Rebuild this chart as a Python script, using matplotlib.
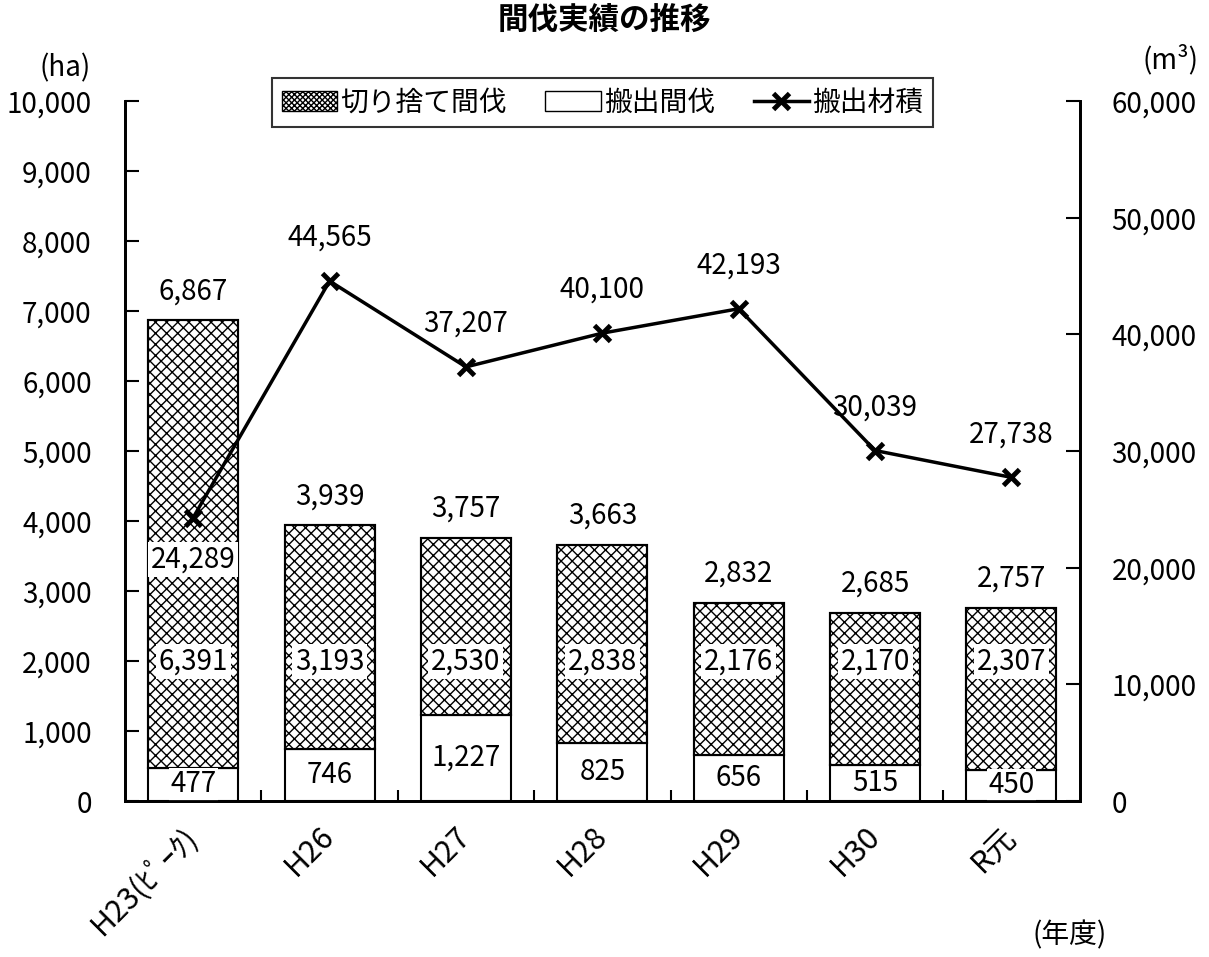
import matplotlib
matplotlib.use("Agg")
import matplotlib.pyplot as plt
from matplotlib.patches import Patch
from matplotlib.lines import Line2D
from matplotlib.ticker import FuncFormatter, MultipleLocator

plt.rcParams['font.family'] = ['Noto Sans CJK JP', 'DejaVu Sans']
plt.rcParams['hatch.linewidth'] = 1.0

categories = ['H23(ﾋﾟｰｸ)', 'H26', 'H27', 'H28', 'H29', 'H30', 'R元']
hanshutsu = [477, 746, 1227, 825, 656, 515, 450]          # 搬出間伐 (ha)
kirisute = [6391, 3193, 2530, 2838, 2176, 2170, 2307]      # 切り捨て間伐 (ha)
totals = [6867, 3939, 3757, 3663, 2832, 2685, 2757]        # 合計 (ha)
volume = [24289, 44565, 37207, 40100, 42193, 30039, 27738] # 搬出材積 (m3)

fig = plt.figure(figsize=(12.09, 9.57), dpi=100)
ax = fig.add_axes([0.1034, 0.163, 0.7896, 0.7315])
ax2 = ax.twinx()

x = list(range(len(categories)))
w = 0.66
fs = 20

ax.bar(x, hanshutsu, w, color='white', edgecolor='black', linewidth=1.5, zorder=2)
ax.bar(x, kirisute, w, bottom=hanshutsu, color='white', edgecolor='black',
       hatch='xxx', linewidth=1.5, zorder=2)
ax.bar(x, kirisute, w, bottom=hanshutsu, color='none', edgecolor='black',
       linewidth=1.5, zorder=3)

ax.set_xlim(-0.5, len(categories) - 0.5)
ax.set_ylim(0, 10000)
ax2.set_ylim(0, 60000)
ax.yaxis.set_major_locator(MultipleLocator(1000))
ax2.yaxis.set_major_locator(MultipleLocator(10000))
fmt = FuncFormatter(lambda v, p: f'{int(v):,}')
ax.yaxis.set_major_formatter(fmt)
ax2.yaxis.set_major_formatter(fmt)

for a in (ax, ax2):
    a.spines['top'].set_visible(False)
    for s in ('left', 'right', 'bottom'):
        a.spines[s].set_linewidth(2)
ax.tick_params(axis='y', direction='in', length=10, width=1.5, labelsize=fs, pad=24)
ax2.tick_params(axis='y', direction='in', length=10, width=1.5, labelsize=fs, pad=23)

ax.set_xticks(x)
ax.set_xticklabels(categories, rotation=45, ha='right', va='center',
                   rotation_mode='anchor', fontsize=22)
ax.tick_params(axis='x', length=0, pad=22)
ax.set_xticks([i + 0.5 for i in x[:-1]], minor=True)
ax.tick_params(axis='x', which='minor', direction='in', length=8, width=1.5)

for i in x:
    ax.text(i, hanshutsu[i] / 2, f'{hanshutsu[i]:,}', ha='center', va='center',
            fontsize=fs, zorder=5,
            bbox=dict(facecolor='white', edgecolor='none', pad=1))
    ax.text(i, 1990, f'{kirisute[i]:,}', ha='center', va='center', fontsize=fs,
            zorder=5, bbox=dict(facecolor='white', edgecolor='none', pad=2))
    ax.text(i, totals[i] + 200, f'{totals[i]:,}', ha='center', va='bottom',
            fontsize=fs, zorder=5)

ax2.plot(x, volume, color='black', linewidth=2.5, marker='x', markersize=12,
         markeredgewidth=3.5, zorder=6)
ax2.set_zorder(ax.get_zorder() + 1)
ax2.patch.set_visible(False)
for i in x:
    if i == 0:
        ax2.annotate(f'{volume[i]:,}', (i, volume[i]), xytext=(0, -30),
                     textcoords='offset points', ha='center', va='center',
                     fontsize=fs, zorder=7,
                     bbox=dict(facecolor='white', edgecolor='none', pad=2))
    else:
        ax2.annotate(f'{volume[i]:,}', (i, volume[i]), xytext=(0, 31),
                     textcoords='offset points', ha='center', va='center',
                     fontsize=fs, zorder=7)

handles = [Patch(facecolor='white', edgecolor='black', hatch='xxxxxx', label='切り捨て間伐'),
           Patch(facecolor='white', edgecolor='black', label='搬出間伐'),
           Line2D([0], [0], color='black', linewidth=2.5, marker='x', markersize=12,
                  markeredgewidth=3.5, label='搬出材積')]
leg = ax2.legend(handles=handles, loc='upper center', bbox_to_anchor=(0.5, 1.033),
                 borderaxespad=0, ncol=3, fontsize=fs, frameon=True, fancybox=False,
                 edgecolor='black', handlelength=2.0, handletextpad=0.1,
                 columnspacing=1.4, borderpad=0.35)
leg.get_frame().set_linewidth(1.5)

fig.text(0.5, 0.979, '間伐実績の推移', ha='center', va='center', fontsize=22,
         fontweight='bold')
fig.text(0.054, 0.929, '(ha)', ha='center', va='center', fontsize=fs)
fig.text(0.968, 0.937, '(m³)', ha='center', va='center', fontsize=fs)
fig.text(0.885, 0.023, '(年度)', ha='center', va='center', fontsize=fs)

fig.savefig('out.png', dpi=100)
